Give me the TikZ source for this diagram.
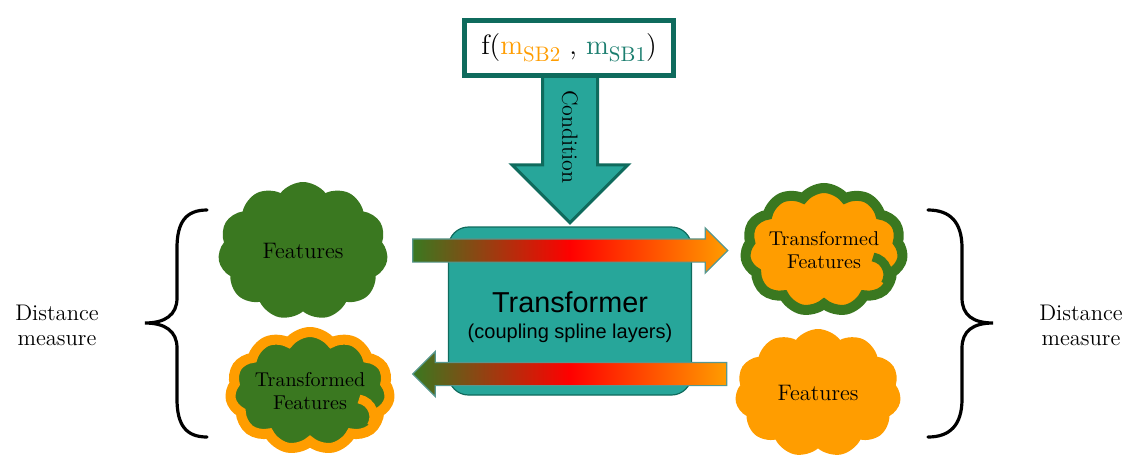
\documentclass[tikz,border=0pt]{standalone}
\usepackage{fontspec}
\newfontfamily\arialsf{Liberation Sans}
\usetikzlibrary{shapes.symbols,shapes.arrows}

\definecolor{leafgreen}{HTML}{3A7820}
\definecolor{amber}{HTML}{FF9D00}
\definecolor{tealfill}{HTML}{27A69A}
\definecolor{tealdark}{HTML}{0F6B5D}
\definecolor{tealtext}{HTML}{1B7E6F}

\newcommand{\sub}[1]{\raisebox{-3.5pt}{\fontsize{10.5}{12}\selectfont #1}}

\tikzset{
  puff/.style={cloud, cloud puffs=11, cloud puff arc=105, cloud ignores aspect,
    inner sep=0pt, align=center},
  flowarrow/.style={single arrow, single arrow head extend=5.5pt,
    single arrow tip angle=90, inner xsep=0pt, inner ysep=5.5pt,
    left color=leafgreen, right color=amber, middle color=red,
    draw=tealdark!70, line width=0.6pt},
  curly/.style={line width=1.6pt, line cap=round},
  label/.style={align=center, font=\fontsize{11.3}{12.5}\selectfont},
  fold/.style={line width=4.5pt},
}

\begin{document}
\begin{tikzpicture}[x=0.5pt, y=-0.5pt]
  \useasboundingbox (0,0) rectangle (1129,462);

  % transformer block
  \node[fill=tealfill, draw=tealdark, line width=0.6pt, rounded corners=10pt,
        minimum width=121.5pt, minimum height=84pt] (trans) at (570,311) {};
  \node[font=\arialsf\fontsize{14.4}{17}\selectfont] (transtxt) at (570,302) {Transformer};
  \node[font=\arialsf\fontsize{10}{12}\selectfont] (transsub) at (570,333) {(coupling spline layers)};

  % forward and inverse flow
  \node[flowarrow, minimum height=157.5pt] (fwd) at (564.5,250.5) {};
  \node[flowarrow, shape border rotate=180, minimum height=157pt] (bwd) at (575.5,374) {};

  % conditioning
  \node[single arrow, single arrow head extend=15.25pt, single arrow tip angle=90,
        minimum height=73.5pt, inner xsep=0pt, inner ysep=13pt,
        fill=tealfill, draw=tealdark, line width=1.5pt, rotate=-90] (cond) at (570,135.5) {};
  \node[rotate=-90, font=\fontsize{11}{13}\selectfont] (condtxt) at (570,137) {Condition};
  \node[draw=tealdark, line width=2.5pt, fill=white, minimum width=104.5pt,
        minimum height=27.5pt, inner sep=0pt, font=\fontsize{14}{16}\selectfont] (fin) at (569,48)
    {f(\textcolor{amber}{m\sub{SB2}} , \textcolor{tealtext}{m\sub{SB1}})};

  % feature clouds
  \node[puff, fill=leafgreen, minimum width=85pt, minimum height=69pt,
        font=\fontsize{11.2}{13}\selectfont] (featL) at (303,251) {Features};
  \node[puff, fill=leafgreen, draw=amber, line width=5pt, minimum width=80pt,
        minimum height=59pt, font=\fontsize{10}{11.5}\selectfont] (tfeatL) at (310,391) {Transformed\\Features};
  \node[puff, fill=amber, draw=leafgreen, line width=5pt, minimum width=79pt,
        minimum height=62pt, font=\fontsize{10}{11.5}\selectfont] (tfeatR) at (824,250) {Transformed\\Features};
  \node[puff, fill=amber, minimum width=83pt, minimum height=64pt,
        font=\fontsize{11.2}{13}\selectfont] (featR) at (818,393) {Features};
  % inner fold of the outlined clouds
  \draw[fold, amber] ([shift={(49,8)}]tfeatL.center) arc[start angle=-80, end angle=30, radius=18];
  \draw[fold, leafgreen] ([shift={(49,7)}]tfeatR.center) arc[start angle=-80, end angle=30, radius=18];

  % braces
  \draw[curly] (207,210) .. controls (186,210) and (177,222) .. (177,248)
    -- (177,298) .. controls (177,315) and (165,323) .. (145,323)
    .. controls (165,323) and (177,331) .. (177,348)
    -- (177,399) .. controls (177,425) and (186,437) .. (207,437);
  \draw[curly] (928,210) .. controls (950,210) and (962,222) .. (962,248)
    -- (962,298) .. controls (962,315) and (973,323) .. (993,323)
    .. controls (973,323) and (962,331) .. (962,348)
    -- (962,399) .. controls (962,425) and (950,437) .. (928,437);
  \node[label] (distL) at (57,325) {Distance\\measure};
  \node[label] (distR) at (1081,325) {Distance\\measure};
\end{tikzpicture}
\end{document}
